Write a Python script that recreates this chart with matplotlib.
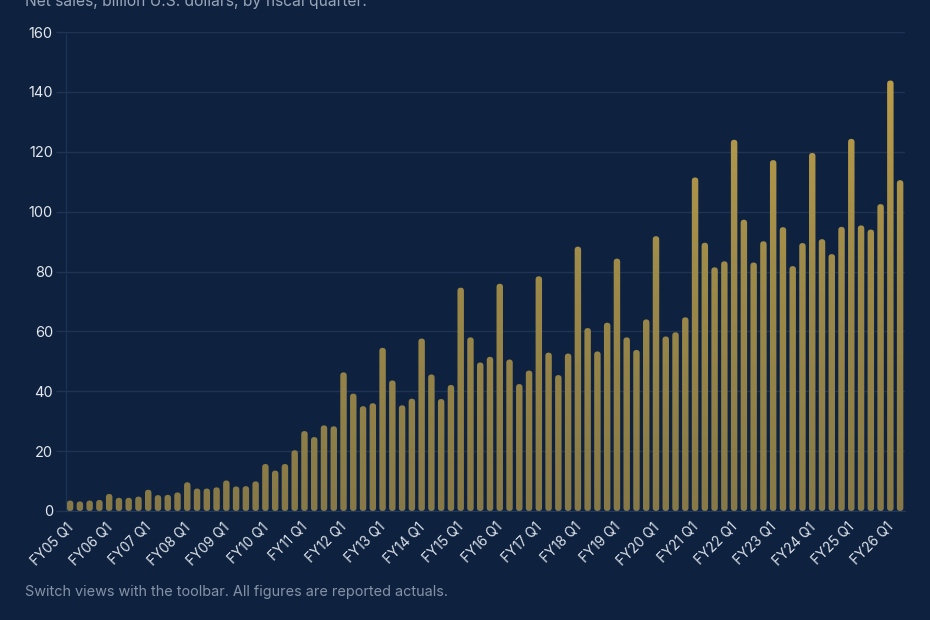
import numpy as np
import matplotlib
matplotlib.use("Agg")
import matplotlib.pyplot as plt
import matplotlib.transforms as mtransforms
from matplotlib.patches import FancyBboxPatch, PathPatch
from matplotlib.path import Path
from matplotlib.colors import LinearSegmentedColormap

plt.rcParams['font.family'] = ['Inter', 'DejaVu Sans']

fiscal_years = [f"FY{y:02d}" for y in range(5, 27)]
quarters = ["Q1", "Q2", "Q3", "Q4"]
labels = [f"{fy} {q}" for fy in fiscal_years for q in quarters][:86]

net_sales = [
    3.5, 3.2, 3.5, 3.7,
    5.7, 4.4, 4.4, 4.8,
    7.1, 5.3, 5.4, 6.2,
    9.6, 7.5, 7.5, 7.9,
    10.2, 8.2, 8.3, 9.9,
    15.7, 13.5, 15.7, 20.3,
    26.7, 24.7, 28.6, 28.3,
    46.3, 39.2, 35.0, 36.0,
    54.5, 43.6, 35.3, 37.5,
    57.6, 45.6, 37.4, 42.1,
    74.6, 58.0, 49.6, 51.5,
    75.9, 50.6, 42.4, 46.9,
    78.4, 52.9, 45.4, 52.6,
    88.3, 61.1, 53.3, 62.9,
    84.3, 58.0, 53.8, 64.0,
    91.8, 58.3, 59.7, 64.7,
    111.4, 89.6, 81.4, 83.4,
    124.0, 97.3, 83.0, 90.1,
    117.2, 94.8, 81.8, 89.5,
    119.6, 90.8, 85.8, 94.9,
    124.3, 95.4, 94.0, 102.5,
    143.8, 110.5,
]

subtitle = "Net sales, billion U.S. dollars, by fiscal quarter."
footer = "Switch views with the toolbar. All figures are reported actuals."

BG = "#0e2240"
GRID = "#1f3354"

fig = plt.figure(figsize=(9.3, 6.2), dpi=100, facecolor=BG)
ax = fig.add_axes([66/930, 1-511/620, (905-66)/930, (511-32)/620])
ax.set_facecolor(BG)

n = len(net_sales)
x = np.arange(n)
x0, x1 = -0.42, n - 0.5

px_per_x = (905 - 66) / (x1 - x0)
px_per_y = (511 - 32) / 160
aspect = px_per_x / px_per_y
bw = 0.66
r = 3.2 / px_per_x

paths = []
for xi, v in zip(x, net_sales):
    p = FancyBboxPatch((xi - bw/2, 0), bw, v,
                       boxstyle=f"round,pad=0,rounding_size={r}",
                       mutation_aspect=aspect, linewidth=0)
    paths.append(p.get_path())
compound = Path.make_compound_path(*paths)
clip = PathPatch(compound, transform=ax.transData, facecolor='none', edgecolor='none')
ax.add_patch(clip)

cmap = LinearSegmentedColormap.from_list("gold", ["#877947", "#9e8a49", "#c2a24a"])
grad = np.linspace(0, 1, 256).reshape(-1, 1)
im = ax.imshow(grad, cmap=cmap, origin='lower', aspect='auto',
               extent=(x0, x1, 0, 160), zorder=2, interpolation='bilinear')
im.set_clip_path(clip)
ax.set_xlim(x0, x1)
ax.set_ylim(0, 160)

ax.set_yticks(np.arange(0, 161, 20))
ax.grid(axis='y', color=GRID, linewidth=1, zorder=0)
ax.set_axisbelow(True)
for s in ['top', 'right']:
    ax.spines[s].set_visible(False)
ax.spines['left'].set_color(GRID)
ax.spines['bottom'].set_color("#22385c")
ax.tick_params(axis='y', length=7, width=1, color=GRID, pad=2.5,
               labelcolor="#e4e8ee", labelsize=10.5)
ax.set_xticks(x[::4])
ax.set_xticklabels(labels[::4], rotation=45, ha='right', rotation_mode='anchor',
                   color="#dde2ea", fontsize=9.8)
ax.tick_params(axis='x', length=0, pad=8)
offset = mtransforms.ScaledTranslation(-4/100, 2/100, fig.dpi_scale_trans)
for lbl in ax.get_xticklabels():
    lbl.set_transform(lbl.get_transform() + offset)

fig.text(25/930, 1 - 6/620, subtitle, color="#9aa6b8", fontsize=11.2, va='baseline', ha='left')
fig.text(25/930, 1 - 596/620, footer, color="#8592a6", fontsize=10.4, va='baseline', ha='left')

fig.savefig("out.png", dpi=100, facecolor=BG)
